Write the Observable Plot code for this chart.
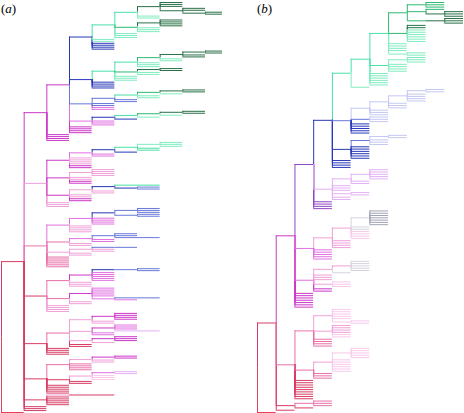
<!DOCTYPE html>
<html>
<head>
<meta charset="utf-8">
<script src="https://cdn.jsdelivr.net/npm/d3@7"></script>
<script src="https://cdn.jsdelivr.net/npm/@observablehq/plot@0.6"></script>
<style>
  html, body { margin: 0; padding: 0; background: #fff; }
  #wrap { position: relative; width: 464px; height: 413px; overflow: hidden; }
  #wrap svg { position: absolute; left: 0; top: 0; background: transparent !important; }
  .lab { position: absolute; font-family: "Liberation Serif", "DejaVu Serif", serif; font-size: 13px; color: #000; line-height: 1; }
</style>
</head>
<body>
<div id="wrap">
  <div class="lab" style="left:1px; top:2px">(<i>a</i>)</div>
  <div class="lab" style="left:257px; top:2px">(<i>b</i>)</div>
</div>
<script>
// ---- colour codes (trait state of each lineage) ----
const colorCodes  = ["R","r","P","p","q","M","m","n","V","B","b","c","T","t","G","D","S","s"];
const colorValues = ["#e8405c","#d83c64","#e870a8","#f0a0d8","#f8c8ec","#cc38c8","#e070e0","#e4b0f4",
                     "#9048c0","#2838b8","#6878d8","#c4c8f4","#48e0a8","#80ecc0","#30b870","#2a7048",
                     "#a0a4b4","#d4d4e0"];

// ---- tree (a): node = [colour, ...children]; "X3" = 3 tips of colour X ----
const presentA = 9.75;
const treeA = ["R",
 ["r",
  ["M",
   ["M",
    ["B",
     ["T",
      ["T",
       ["D", "D3", ["D", "D2", ["D", "D2"]]],
       "t2"],
      ["G", ["D", "D2", "D2"], "t3"],
      "t3"],
     "t2", "B4"],
    ["B",
     ["T",
      ["T",
       ["G", ["D", ["D", "D2"], "D2"], "t2"],
       "t3"],
      ["G", ["D", "D2"], "t2"],
      "t3"],
     "B4"],
    ["b",
     ["b", ["T", ["G", ["D", "D2"], "t1"], "t2"], "b2"],
     "b2", "m2"],
    ["m",
     ["B", ["T", ["G", ["D", "D2"], "t1"], "t1"], "B1"],
     "m3"],
    "M4"],
   "M4"],
  ["p",
   ["M",
    ["m", ["B", ["T", ["t", "t3"], "T2"], "B1"], "m2"],
    "p4", "M2"],
   ["M", ["p", "p4"], "p2", "M2"],
   ["M", ["p", ["B", ["T", "T1"], ["B", "b2"]], "p2"], "p2", "M2"],
   "p3"],
  ["P",
   ["m", ["m", ["B", ["b", "b3"], ["b", "b2"]], "m4"], "p4"],
   ["P", ["m", ["b", "b2", ["b", "b1"]], "m2"], "p2"],
   ["p", ["p", ["b", "b1"], "p2"], "p2"],
   "P6"],
  ["r",
   ["P", ["M", ["B", ["b", "b2"]], "m5"], "p3"],
   ["P", ["M", "m5", ["m", ["b", "b1"], "m1"]], "p2"],
   "p4"],
  ["r",
   ["P",
    ["p", ["M", "M4"], "p2"],
    ["p", ["M", "m3", ["n", "n1"]], "m2"],
    ["p", ["M", "M3"], "p1"],
    "r2"],
   "r4"],
  ["r",
   ["P", ["p", ["M", "M2"], "p2"], "P4"],
   ["r", ["p", ["m", "n2"], "q3"], "r2"],
   "r5"],
  ["r", ["p", ["r", "r1"]], "r5"],
  "r3"],
 "R1"];

// ---- tree (b) ----
const presentB = 11;
const treeB = ["R",
 ["r",
  ["M",
   ["V",
    ["B",
     ["T",
      ["T",
       ["T",
        ["G", ["G", "G3"], ["G", "G1", ["D", "D3"]], ["G", ["D", "D3"]]],
        ["G", "D2", "t6"],
        "t4", ["t", "t2"]],
       ["T", ["t", "t3"], "t4"],
       "t6"],
      "t1"],
     ["b", ["c", ["c", ["c", ["c", "c2"], "c4"], "c3"], "c3"], ["b", "c3"], "B5"],
     ["B", ["b", ["c", "c2"], "c3"], "B6"],
     "B4"],
    ["n", ["n", ["n", "n5"], "n2"], "n3", ["n", "n2"], "n2"],
    "V4"],
   ["m", ["p", ["p", ["s", "S7"], "s2", "q4"], "p4"], "m5"],
   ["m", ["p", ["p", "s5"], "s1"], "p3", ["p", "q3"], "M2"],
   "M7"],
  ["P",
   ["P", ["p", "q5", ["q", "q2"]], ["p", "p4", "q2"], "P4"],
   ["P", ["p", ["q", "q5"], "q6"], "P3"],
   "r9"],
  ["r", ["P", "P3"], "r1"],
  "r1"],
 "R1"];

function makeTree(spec, present) {
  function build(s, parentColor) {
    if (typeof s === "string") {
      const c = s[0], n = +s.slice(1);
      return Array.from({length: n}, () => ({color: c, children: []}));
    }
    let color = parentColor, rest = s;
    if (typeof s[0] === "string" && s[0].length === 1) { color = s[0]; rest = s.slice(1); }
    return [{color, children: rest.flatMap(x => build(x, color))}];
  }
  const [root] = build(spec, "R");
  let k = 0;
  (function place(node, depth) {
    node.depth = depth;
    if (!node.children.length) { node.y = k++; return; }
    node.children.forEach(c => place(c, depth + 1));
    node.y = (node.children[0].y + node.children[node.children.length - 1].y) / 2;
  })(root, 0);
  const h = [], v = [];
  (function visit(node) {
    node.children.forEach(c => {
      h.push({x1: node.depth, x2: Math.min(c.depth, present), y: c.y, color: c.color});
      v.push({x: node.depth, y1: node.y, y2: c.y, color: c.color});
      visit(c);
    });
  })(root);
  v.sort((a, b) => Math.abs(b.y2 - b.y1) - Math.abs(a.y2 - a.y1));
  return {h, v, n: k};
}

function drawTree(spec, present, xRange) {
  const t = makeTree(spec, present);
  return Plot.plot({
    width: 464, height: 413, margin: 0,
    x: {domain: [0, present], range: xRange, axis: null},
    y: {domain: [0, t.n - 1], range: [2, 412], axis: null},
    color: {type: "ordinal", domain: colorCodes, range: colorValues},
    style: {background: "transparent", overflow: "visible"},
    marks: [
      Plot.ruleX(t.v, {x: "x", y1: "y1", y2: "y2", stroke: "color", strokeWidth: 1}),
      Plot.ruleY(t.h, {y: "y", x1: "x1", x2: "x2", stroke: "color", strokeWidth: 1})
    ]
  });
}

const wrap = document.getElementById("wrap");
wrap.prepend(drawTree(treeB, presentB, [257, 463]));
wrap.prepend(drawTree(treeA, presentA, [1, 222]));
</script>
</body>
</html>
